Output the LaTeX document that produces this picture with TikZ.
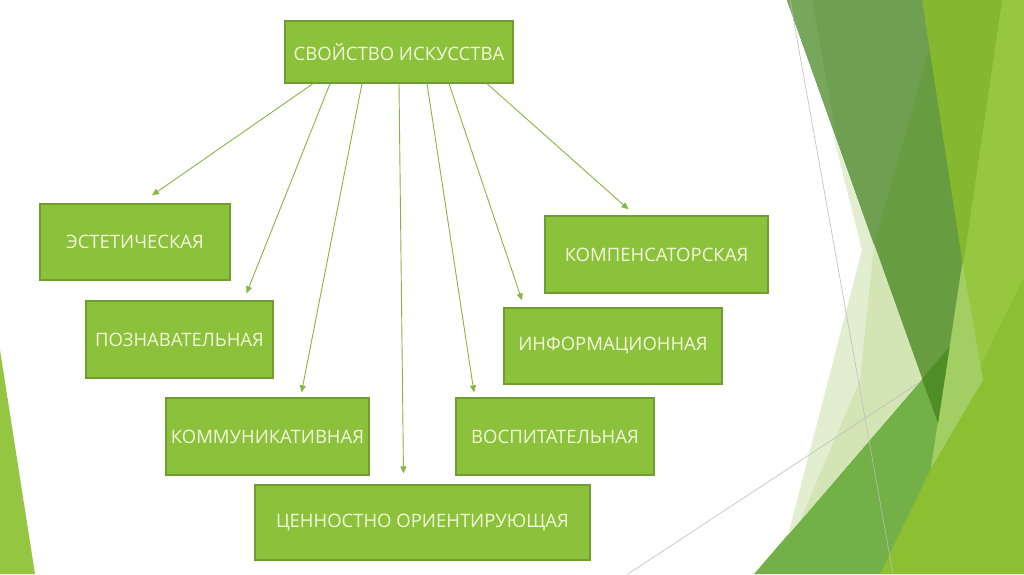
\documentclass[tikz,border=0pt]{standalone}
\usepackage{fontspec}
\setmainfont{Open Sans}
\usetikzlibrary{arrows.meta,calc}
\definecolor{boxfill}{HTML}{8CC13B}
\definecolor{boxline}{HTML}{6F9E2E}
\definecolor{boxtext}{HTML}{F1F7DA}
\definecolor{arrowc}{HTML}{8AB445}
\definecolor{cDarker}{HTML}{689C40}
\definecolor{cMuted}{HTML}{6FA052}
\definecolor{cLMuted}{HTML}{77A75C}
\definecolor{cYS}{HTML}{85B72F}
\definecolor{cRL}{HTML}{96C73F}
\definecolor{cLB}{HTML}{A3CE63}
\definecolor{cMG}{HTML}{74B048}
\definecolor{cBR}{HTML}{8CC032}
\definecolor{cDarkest}{HTML}{4F8E27}
\definecolor{cPaleA}{HTML}{E2EECF}
\definecolor{cPaleB}{HTML}{D3E5B4}
\definecolor{cLeft}{HTML}{95C641}
\definecolor{cGray}{HTML}{BDBDBD}
\begin{document}
\begin{tikzpicture}[x=1pt,y=-1pt,
  box/.style={draw=boxline,line width=1.3pt,fill=boxfill,text=boxtext,
    font=\fontsize{18.5}{21}\selectfont,inner sep=0pt},
  arr/.style={draw=arrowc,line width=0.9pt,-{Triangle[length=7pt,width=6pt]}},
  thin line/.style={draw=cGray,line width=0.6pt}]
\useasboundingbox (0,0) rectangle (1024,574);
\fill[white] (0,0) rectangle (1024,574);
% right decoration
\fill[cMG] (754,574) -- (1024,261) -- (1024,574) -- cycle;
\fill[cBR] (1024,277) -- (1024,574) -- (880,574) -- cycle;
\fill[cRL] (1002,0) -- (1024,0) -- (1024,277) -- (931,468) -- cycle;
\fill[cLB] (962.4,262) -- (983,380) -- (931,468) -- cycle;
\fill[cPaleA] (832,130) -- (874,245) -- (922,379) -- (788,535) -- (862,250) -- cycle;
\fill[cPaleB] (874,245) -- (922,379) -- (800,521) -- (860,380) -- cycle;
\fill[cDarker] (787,0) -- (1002,0) -- (938,423) -- cycle;
\fill[cMuted] (787,0) -- (943,0) -- (874,245) -- cycle;
\fill[cLMuted] (787,0) -- (812,0) -- (837,140) -- cycle;
\fill[cYS] (922,0) -- (1002,0) -- (963,266) -- cycle;
\fill[cDarkest] (922,379) -- (949.5,347) -- (938,423) -- cycle;
\path[thin line] (790,0) -- (893,574);
\path[thin line] (628,574) -- (920,382);
% left decoration
\fill[cLeft] (0,350) -- (35,574) -- (0,574) -- cycle;
% boxes
\node[box,minimum width=228pt,minimum height=62pt] (top) at (399,52) {СВОЙСТВО ИСКУССТВА};
\node[box,minimum width=190pt,minimum height=76pt] (est) at (135,242) {ЭСТЕТИЧЕСКАЯ};
\node[box,minimum width=187pt,minimum height=77pt] (poz) at (179.5,339.5) {ПОЗНАВАТЕЛЬНАЯ};
\node[box,minimum width=203pt,minimum height=77pt] (kom) at (267.5,436.5) {КОММУНИКАТИВНАЯ};
\node[box,minimum width=335pt,minimum height=75pt] (cen) at (422.5,522.5) {ЦЕННОСТНО ОРИЕНТИРУЮЩАЯ};
\node[box,minimum width=198pt,minimum height=77pt] (vos) at (555,436.5) {ВОСПИТАТЕЛЬНАЯ};
\node[box,minimum width=218pt,minimum height=76pt] (inf) at (613,346) {ИНФОРМАЦИОННАЯ};
\node[box,minimum width=223pt,minimum height=77pt] (komp) at (656.5,254.5) {КОМПЕНСАТОРСКАЯ};
% arrow tips
\coordinate (t1) at ($(est.north)+(17,-8)$);
\coordinate (t2) at ($(poz.north)+(67,-7)$);
\coordinate (t3) at ($(kom.north)+(34,-5)$);
\coordinate (t4) at ($(cen.north)+(-19,-11)$);
\coordinate (t5) at ($(vos.north)+(-81,-5)$);
\coordinate (t6) at ($(inf.north)+(-91,-7)$);
\coordinate (t7) at ($(komp.north)+(-28,-6)$);
\draw[arr] ($(top.south)+(-86,0)$) -- (t1);
\draw[arr] ($(top.south)+(-69,0)$) -- (t2);
\draw[arr] ($(top.south)+(-37,0)$) -- (t3);
\draw[arr] ($(top.south)+(0,0)$) -- (t4);
\draw[arr] ($(top.south)+(28,0)$) -- (t5);
\draw[arr] ($(top.south)+(50,0)$) -- (t6);
\draw[arr] ($(top.south)+(88,0)$) -- (t7);
\end{tikzpicture}
\end{document}
